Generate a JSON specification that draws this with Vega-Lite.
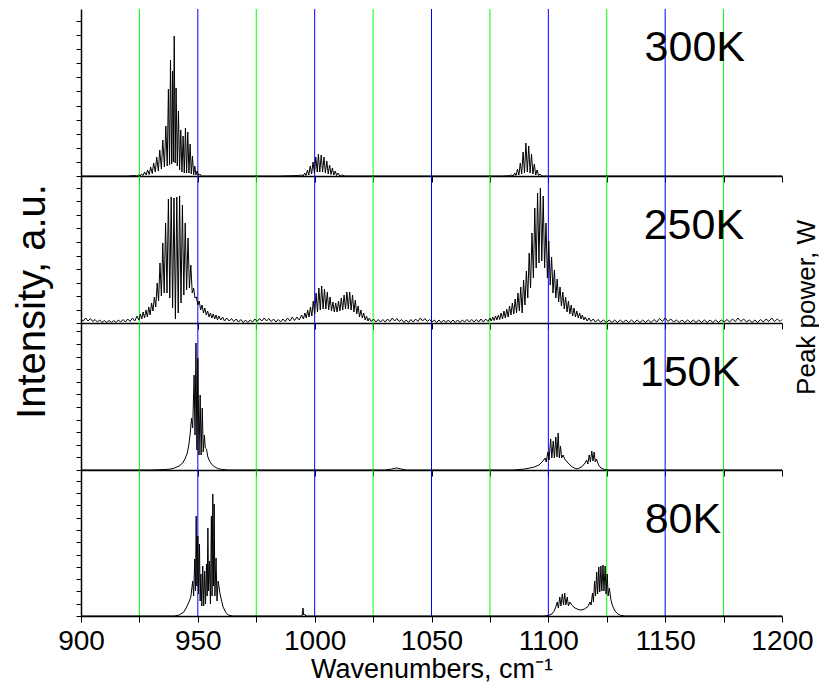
{
  "$schema": "https://vega.github.io/schema/vega-lite/v6.json",
  "background": "white",
  "padding": {"left": 11, "top": 8, "right": 0, "bottom": 0},
  "autosize": {"type": "pad"},
  "spacing": 0,
  "bounds": "flush",
  "config": {"view": {"stroke": null}, "font": "Liberation Sans"},
  "datasets": {
    "grid": [
      {"w": 925, "c": "g"}, {"w": 950, "c": "b"}, {"w": 975, "c": "g"}, {"w": 1000, "c": "b"},
      {"w": 1025, "c": "g"}, {"w": 1050, "c": "b"}, {"w": 1075, "c": "g"}, {"w": 1100, "c": "b"},
      {"w": 1125, "c": "g"}, {"w": 1150, "c": "b"}, {"w": 1175, "c": "g"}
    ],
    "temps": [{"p": "300K"}, {"p": "250K"}, {"p": "150K"}, {"p": "80K"}],
    "spectra": [
      {"p":"300K","w":900,"h":0},{"p":"300K","w":920,"h":0},{"p":"300K","w":923,"h":0.5},{"p":"300K","w":924,"h":0},{"p":"300K","w":924.6,"h":1},{"p":"300K","w":925.3,"h":0},{"p":"300K","w":925.9,"h":2},{"p":"300K","w":926.6,"h":0.5},{"p":"300K","w":927.2,"h":4},{"p":"300K","w":927.9,"h":1},{"p":"300K","w":928.5,"h":6},{"p":"300K","w":929.2,"h":1.5},{"p":"300K","w":929.8,"h":9},{"p":"300K","w":930.5,"h":2.5},{"p":"300K","w":931.1,"h":13},{"p":"300K","w":931.8,"h":4},{"p":"300K","w":932.4,"h":19},{"p":"300K","w":933.1,"h":5},{"p":"300K","w":933.7,"h":26},{"p":"300K","w":934.4,"h":7},{"p":"300K","w":935,"h":36},{"p":"300K","w":935.7,"h":9},{"p":"300K","w":936.3,"h":50},{"p":"300K","w":936.9,"h":10},{"p":"300K","w":937.4,"h":87},{"p":"300K","w":937.9,"h":11},{"p":"300K","w":938.3,"h":116},{"p":"300K","w":938.8,"h":12},{"p":"300K","w":939.2,"h":105},{"p":"300K","w":939.5,"h":14},{"p":"300K","w":939.9,"h":140},{"p":"300K","w":940.3,"h":13},{"p":"300K","w":940.7,"h":88},{"p":"300K","w":941.2,"h":10},{"p":"300K","w":941.7,"h":65},{"p":"300K","w":942.2,"h":6},{"p":"300K","w":942.7,"h":46},{"p":"300K","w":943.2,"h":4},{"p":"300K","w":943.7,"h":40},{"p":"300K","w":944.2,"h":3},{"p":"300K","w":944.7,"h":48},{"p":"300K","w":945.2,"h":3},{"p":"300K","w":945.7,"h":44},{"p":"300K","w":946.2,"h":3},{"p":"300K","w":946.7,"h":32},{"p":"300K","w":947.2,"h":2},{"p":"300K","w":947.7,"h":20},{"p":"300K","w":948.2,"h":1},{"p":"300K","w":948.7,"h":10},{"p":"300K","w":949.2,"h":1},{"p":"300K","w":949.7,"h":5},{"p":"300K","w":950.3,"h":0.5},{"p":"300K","w":950.9,"h":2},{"p":"300K","w":951.5,"h":0},{"p":"300K","w":960,"h":0},{"p":"300K","w":985,"h":0},{"p":"300K","w":990,"h":0.3},{"p":"300K","w":993,"h":0.5},
      {"p":"300K","w":994.5,"h":1},{"p":"300K","w":995.1,"h":0},{"p":"300K","w":995.7,"h":3},{"p":"300K","w":996.3,"h":0.5},{"p":"300K","w":996.9,"h":6},{"p":"300K","w":997.5,"h":1},{"p":"300K","w":998.1,"h":10},{"p":"300K","w":998.7,"h":2},{"p":"300K","w":999.3,"h":14},{"p":"300K","w":999.9,"h":3},{"p":"300K","w":1000.5,"h":19},{"p":"300K","w":1001.1,"h":4},{"p":"300K","w":1001.6,"h":22},{"p":"300K","w":1002.2,"h":4},{"p":"300K","w":1002.8,"h":21},{"p":"300K","w":1003.4,"h":4},{"p":"300K","w":1004,"h":19},{"p":"300K","w":1004.6,"h":3},{"p":"300K","w":1005.2,"h":15},{"p":"300K","w":1005.8,"h":2},{"p":"300K","w":1006.4,"h":11},{"p":"300K","w":1007,"h":1.5},{"p":"300K","w":1007.6,"h":8},{"p":"300K","w":1008.2,"h":1},{"p":"300K","w":1008.8,"h":5},{"p":"300K","w":1009.4,"h":0.5},{"p":"300K","w":1010,"h":3},{"p":"300K","w":1010.8,"h":0},{"p":"300K","w":1011.6,"h":1},{"p":"300K","w":1013,"h":0},{"p":"300K","w":1080,"h":0},{"p":"300K","w":1083,"h":0.3},
      {"p":"300K","w":1084.4,"h":1},{"p":"300K","w":1085,"h":0},{"p":"300K","w":1085.6,"h":3},{"p":"300K","w":1086.2,"h":0.5},{"p":"300K","w":1086.8,"h":7},{"p":"300K","w":1087.4,"h":1},{"p":"300K","w":1088,"h":13},{"p":"300K","w":1088.6,"h":2},{"p":"300K","w":1089.2,"h":24},{"p":"300K","w":1089.8,"h":3},{"p":"300K","w":1090.4,"h":33},{"p":"300K","w":1091,"h":4},{"p":"300K","w":1091.6,"h":30},{"p":"300K","w":1092.2,"h":3},{"p":"300K","w":1092.8,"h":22},{"p":"300K","w":1093.4,"h":2},{"p":"300K","w":1094,"h":12},{"p":"300K","w":1094.6,"h":1},{"p":"300K","w":1095.2,"h":6},{"p":"300K","w":1095.8,"h":0.5},{"p":"300K","w":1096.4,"h":2},{"p":"300K","w":1097.2,"h":0},{"p":"300K","w":1200,"h":0},

      {"p":"250K","w":900,"h":4},{"p":"250K","w":901,"h":2},{"p":"250K","w":902,"h":5},{"p":"250K","w":903,"h":2},{"p":"250K","w":904,"h":4.5},{"p":"250K","w":905,"h":1.5},{"p":"250K","w":906,"h":3.5},{"p":"250K","w":907,"h":1},{"p":"250K","w":908,"h":3},{"p":"250K","w":909,"h":0.5},{"p":"250K","w":910,"h":2.5},{"p":"250K","w":911,"h":0.5},{"p":"250K","w":912,"h":2.5},{"p":"250K","w":913,"h":0.5},{"p":"250K","w":914,"h":2.5},{"p":"250K","w":915,"h":0.5},{"p":"250K","w":916,"h":3},{"p":"250K","w":917,"h":1},{"p":"250K","w":918,"h":3.5},{"p":"250K","w":919,"h":1},{"p":"250K","w":920,"h":4},{"p":"250K","w":921,"h":1.5},{"p":"250K","w":922,"h":5},{"p":"250K","w":923,"h":2},{"p":"250K","w":924,"h":7},{"p":"250K","w":924.8,"h":3},
      {"p":"250K","w":925.4,"h":9},{"p":"250K","w":926,"h":4},{"p":"250K","w":926.6,"h":11},{"p":"250K","w":927.2,"h":5},{"p":"250K","w":927.8,"h":13},{"p":"250K","w":928.4,"h":6},{"p":"250K","w":929,"h":16},{"p":"250K","w":929.6,"h":8},{"p":"250K","w":930.2,"h":20},{"p":"250K","w":930.8,"h":12},{"p":"250K","w":931.4,"h":26},{"p":"250K","w":932,"h":16},{"p":"250K","w":932.6,"h":40},{"p":"250K","w":933.2,"h":22},{"p":"250K","w":933.8,"h":60},{"p":"250K","w":934.4,"h":27},{"p":"250K","w":935,"h":80},{"p":"250K","w":935.6,"h":30},{"p":"250K","w":936.2,"h":100},{"p":"250K","w":936.8,"h":30},{"p":"250K","w":937.4,"h":124},{"p":"250K","w":938,"h":25},{"p":"250K","w":938.6,"h":126},{"p":"250K","w":939.2,"h":15},{"p":"250K","w":939.8,"h":125},{"p":"250K","w":940.4,"h":4},{"p":"250K","w":941,"h":126},{"p":"250K","w":941.6,"h":10},{"p":"250K","w":942.2,"h":127},{"p":"250K","w":942.8,"h":20},{"p":"250K","w":943.4,"h":118},{"p":"250K","w":944,"h":28},{"p":"250K","w":944.6,"h":100},{"p":"250K","w":945.2,"h":33},{"p":"250K","w":945.8,"h":85},{"p":"250K","w":946.4,"h":35},{"p":"250K","w":947,"h":58},{"p":"250K","w":947.6,"h":30},{"p":"250K","w":948.2,"h":35},{"p":"250K","w":948.8,"h":25},{"p":"250K","w":949.4,"h":26},{"p":"250K","w":950,"h":18},{"p":"250K","w":950.6,"h":22},{"p":"250K","w":951.2,"h":13},{"p":"250K","w":951.8,"h":18},{"p":"250K","w":952.4,"h":10},{"p":"250K","w":953,"h":15},{"p":"250K","w":953.6,"h":8},{"p":"250K","w":954.2,"h":12},{"p":"250K","w":954.8,"h":6},{"p":"250K","w":955.4,"h":10},{"p":"250K","w":956,"h":5},{"p":"250K","w":956.6,"h":9},{"p":"250K","w":957.2,"h":4},{"p":"250K","w":957.8,"h":8},{"p":"250K","w":958.4,"h":3},{"p":"250K","w":959,"h":7},{"p":"250K","w":959.8,"h":3},{"p":"250K","w":960.6,"h":6},{"p":"250K","w":961.4,"h":2},{"p":"250K","w":962.4,"h":5},{"p":"250K","w":963.4,"h":2},{"p":"250K","w":964.4,"h":4.5},{"p":"250K","w":965.4,"h":1.5},{"p":"250K","w":966.4,"h":4},{"p":"250K","w":967.4,"h":1},{"p":"250K","w":968.4,"h":3.5},{"p":"250K","w":969.4,"h":0.5},{"p":"250K","w":970.4,"h":3},{"p":"250K","w":971.4,"h":0.5},{"p":"250K","w":972.4,"h":3},{"p":"250K","w":973.4,"h":1},{"p":"250K","w":974.4,"h":4},{"p":"250K","w":975.4,"h":1.5},{"p":"250K","w":976.4,"h":4.5},{"p":"250K","w":977.4,"h":2},{"p":"250K","w":978.4,"h":5},{"p":"250K","w":979.4,"h":2},{"p":"250K","w":980.4,"h":4.5},{"p":"250K","w":981.4,"h":1.5},{"p":"250K","w":982.4,"h":4},{"p":"250K","w":983.4,"h":1},{"p":"250K","w":984.4,"h":3.5},{"p":"250K","w":985.4,"h":1},{"p":"250K","w":986.4,"h":4},{"p":"250K","w":987.4,"h":1.5},{"p":"250K","w":988.4,"h":5},{"p":"250K","w":989.4,"h":2},{"p":"250K","w":990.4,"h":6},{"p":"250K","w":991.4,"h":2.5},{"p":"250K","w":992.4,"h":6},{"p":"250K","w":993.4,"h":3},{"p":"250K","w":994.4,"h":8},{"p":"250K","w":995.2,"h":4},
      {"p":"250K","w":995.8,"h":10},{"p":"250K","w":996.4,"h":5},{"p":"250K","w":997,"h":13},{"p":"250K","w":997.6,"h":6},{"p":"250K","w":998.2,"h":16},{"p":"250K","w":998.8,"h":7},{"p":"250K","w":999.4,"h":22},{"p":"250K","w":1000,"h":9},{"p":"250K","w":1000.6,"h":30},{"p":"250K","w":1001.2,"h":11},{"p":"250K","w":1001.8,"h":35},{"p":"250K","w":1002.4,"h":13},{"p":"250K","w":1003,"h":37},{"p":"250K","w":1003.6,"h":14},{"p":"250K","w":1004.2,"h":34},{"p":"250K","w":1004.8,"h":14},{"p":"250K","w":1005.4,"h":31},{"p":"250K","w":1006,"h":13},{"p":"250K","w":1006.6,"h":26},{"p":"250K","w":1007.2,"h":12},{"p":"250K","w":1007.8,"h":21},{"p":"250K","w":1008.4,"h":11},{"p":"250K","w":1009,"h":20},{"p":"250K","w":1009.6,"h":11},{"p":"250K","w":1010.2,"h":22},{"p":"250K","w":1010.8,"h":12},{"p":"250K","w":1011.4,"h":25},{"p":"250K","w":1012,"h":13},{"p":"250K","w":1012.6,"h":28},{"p":"250K","w":1013.2,"h":14},{"p":"250K","w":1013.8,"h":31},{"p":"250K","w":1014.4,"h":14},{"p":"250K","w":1015,"h":31},{"p":"250K","w":1015.6,"h":13},{"p":"250K","w":1016.2,"h":28},{"p":"250K","w":1016.8,"h":11},{"p":"250K","w":1017.4,"h":23},{"p":"250K","w":1018,"h":9},{"p":"250K","w":1018.6,"h":17},{"p":"250K","w":1019.2,"h":6},{"p":"250K","w":1019.8,"h":13},{"p":"250K","w":1020.4,"h":5},{"p":"250K","w":1021,"h":10},{"p":"250K","w":1021.6,"h":3},{"p":"250K","w":1022.2,"h":7},{"p":"250K","w":1022.8,"h":2},{"p":"250K","w":1023.4,"h":5},{"p":"250K","w":1024.2,"h":1.5},
      {"p":"250K","w":1025.2,"h":4},{"p":"250K","w":1026.2,"h":1},{"p":"250K","w":1027.2,"h":3.5},{"p":"250K","w":1028.2,"h":1},{"p":"250K","w":1029.2,"h":3.5},{"p":"250K","w":1030.2,"h":1},{"p":"250K","w":1031.2,"h":4},{"p":"250K","w":1032.2,"h":1.5},{"p":"250K","w":1033.2,"h":5},{"p":"250K","w":1034.2,"h":2},{"p":"250K","w":1035.2,"h":4.5},{"p":"250K","w":1036.2,"h":1.5},{"p":"250K","w":1037.2,"h":3.5},{"p":"250K","w":1038.2,"h":0.5},{"p":"250K","w":1039.2,"h":3},{"p":"250K","w":1040.2,"h":0.5},{"p":"250K","w":1041.2,"h":3.5},{"p":"250K","w":1042.2,"h":1},{"p":"250K","w":1043.2,"h":4},{"p":"250K","w":1044.2,"h":1.5},{"p":"250K","w":1045.2,"h":5},{"p":"250K","w":1046.2,"h":2},{"p":"250K","w":1047.2,"h":4.5},{"p":"250K","w":1048.2,"h":1.5},{"p":"250K","w":1049.2,"h":3.5},{"p":"250K","w":1050.2,"h":1},{"p":"250K","w":1051.2,"h":3},{"p":"250K","w":1052.2,"h":0.5},{"p":"250K","w":1053.2,"h":3},{"p":"250K","w":1054.2,"h":0.5},{"p":"250K","w":1055.2,"h":3},{"p":"250K","w":1056.2,"h":0.5},{"p":"250K","w":1057.2,"h":3},{"p":"250K","w":1058.2,"h":0.5},{"p":"250K","w":1059.2,"h":3},{"p":"250K","w":1060.2,"h":0.5},{"p":"250K","w":1061.2,"h":3},{"p":"250K","w":1062.2,"h":0.5},{"p":"250K","w":1063.2,"h":3},{"p":"250K","w":1064.2,"h":1},{"p":"250K","w":1065.2,"h":3.5},{"p":"250K","w":1066.2,"h":1},{"p":"250K","w":1067.2,"h":3.5},{"p":"250K","w":1068.2,"h":1},{"p":"250K","w":1069.2,"h":3.5},{"p":"250K","w":1070.2,"h":1},{"p":"250K","w":1071.2,"h":4},{"p":"250K","w":1072.2,"h":1},{"p":"250K","w":1073.2,"h":4},{"p":"250K","w":1074.2,"h":1.5},{"p":"250K","w":1075,"h":5},
      {"p":"250K","w":1075.6,"h":2},{"p":"250K","w":1076.2,"h":6},{"p":"250K","w":1076.8,"h":2.5},{"p":"250K","w":1077.4,"h":7},{"p":"250K","w":1078,"h":3},{"p":"250K","w":1078.6,"h":8},{"p":"250K","w":1079.2,"h":3.5},{"p":"250K","w":1079.8,"h":10},{"p":"250K","w":1080.4,"h":4},{"p":"250K","w":1081,"h":12},{"p":"250K","w":1081.6,"h":5},{"p":"250K","w":1082.2,"h":14},{"p":"250K","w":1082.8,"h":6},{"p":"250K","w":1083.4,"h":17},{"p":"250K","w":1084,"h":8},{"p":"250K","w":1084.6,"h":20},{"p":"250K","w":1085.2,"h":9},{"p":"250K","w":1085.8,"h":24},{"p":"250K","w":1086.4,"h":10},{"p":"250K","w":1087,"h":30},{"p":"250K","w":1087.6,"h":12},{"p":"250K","w":1088.2,"h":36},{"p":"250K","w":1088.8,"h":10},{"p":"250K","w":1089.4,"h":43},{"p":"250K","w":1090,"h":18},{"p":"250K","w":1090.6,"h":52},{"p":"250K","w":1091.2,"h":25},{"p":"250K","w":1091.8,"h":70},{"p":"250K","w":1092.4,"h":35},{"p":"250K","w":1093,"h":90},{"p":"250K","w":1093.6,"h":45},{"p":"250K","w":1094.2,"h":115},{"p":"250K","w":1094.8,"h":55},{"p":"250K","w":1095.4,"h":130},{"p":"250K","w":1096,"h":60},{"p":"250K","w":1096.6,"h":135},{"p":"250K","w":1097.2,"h":62},{"p":"250K","w":1097.8,"h":127},{"p":"250K","w":1098.4,"h":55},{"p":"250K","w":1099,"h":100},{"p":"250K","w":1099.6,"h":45},{"p":"250K","w":1100.2,"h":82},{"p":"250K","w":1100.8,"h":38},{"p":"250K","w":1101.4,"h":66},{"p":"250K","w":1102,"h":30},{"p":"250K","w":1102.6,"h":53},{"p":"250K","w":1103.2,"h":25},{"p":"250K","w":1103.8,"h":44},{"p":"250K","w":1104.4,"h":21},{"p":"250K","w":1105,"h":36},{"p":"250K","w":1105.6,"h":17},{"p":"250K","w":1106.2,"h":31},{"p":"250K","w":1106.8,"h":14},{"p":"250K","w":1107.4,"h":26},{"p":"250K","w":1108,"h":11},{"p":"250K","w":1108.6,"h":22},{"p":"250K","w":1109.2,"h":9},{"p":"250K","w":1109.8,"h":18},{"p":"250K","w":1110.4,"h":7},{"p":"250K","w":1111,"h":15},{"p":"250K","w":1111.6,"h":6},{"p":"250K","w":1112.2,"h":12},{"p":"250K","w":1112.8,"h":5},{"p":"250K","w":1113.4,"h":10},{"p":"250K","w":1114,"h":4},{"p":"250K","w":1114.6,"h":8},{"p":"250K","w":1115.2,"h":3},{"p":"250K","w":1115.8,"h":6},{"p":"250K","w":1116.6,"h":2},{"p":"250K","w":1117.4,"h":5},{"p":"250K","w":1118.2,"h":1.5},{"p":"250K","w":1119.2,"h":4},{"p":"250K","w":1120.2,"h":1},{"p":"250K","w":1121.2,"h":3.5},
      {"p":"250K","w":1122.4,"h":1},{"p":"250K","w":1123.6,"h":3},{"p":"250K","w":1124.8,"h":0.5},{"p":"250K","w":1126,"h":3},{"p":"250K","w":1127.2,"h":0.5},{"p":"250K","w":1128.4,"h":3},{"p":"250K","w":1129.6,"h":0.5},{"p":"250K","w":1130.8,"h":3},{"p":"250K","w":1132,"h":0.5},{"p":"250K","w":1133.2,"h":3},{"p":"250K","w":1134.4,"h":0.5},{"p":"250K","w":1135.6,"h":3},{"p":"250K","w":1136.8,"h":0.5},{"p":"250K","w":1138,"h":3},{"p":"250K","w":1139.2,"h":0.5},{"p":"250K","w":1140.4,"h":3},{"p":"250K","w":1141.6,"h":0.5},{"p":"250K","w":1142.8,"h":3},{"p":"250K","w":1144,"h":0.5},{"p":"250K","w":1145.2,"h":3.5},{"p":"250K","w":1146.4,"h":1},{"p":"250K","w":1147.6,"h":4.5},{"p":"250K","w":1148.8,"h":1.5},{"p":"250K","w":1150,"h":5},{"p":"250K","w":1151.2,"h":1.5},{"p":"250K","w":1152.4,"h":4},{"p":"250K","w":1153.6,"h":1},{"p":"250K","w":1154.8,"h":3},{"p":"250K","w":1156,"h":0.5},{"p":"250K","w":1157.2,"h":3},{"p":"250K","w":1158.4,"h":0.5},{"p":"250K","w":1159.6,"h":3},{"p":"250K","w":1160.8,"h":0.5},{"p":"250K","w":1162,"h":3},{"p":"250K","w":1163.2,"h":0.5},{"p":"250K","w":1164.4,"h":3},{"p":"250K","w":1165.6,"h":0.5},{"p":"250K","w":1166.8,"h":3},{"p":"250K","w":1168,"h":0.5},{"p":"250K","w":1169.2,"h":3},{"p":"250K","w":1170.4,"h":0.5},{"p":"250K","w":1171.6,"h":3},{"p":"250K","w":1172.8,"h":0.5},{"p":"250K","w":1174,"h":3},{"p":"250K","w":1175.2,"h":1},{"p":"250K","w":1176.4,"h":3.5},{"p":"250K","w":1177.6,"h":1},{"p":"250K","w":1178.8,"h":4},{"p":"250K","w":1180,"h":1.5},{"p":"250K","w":1181.2,"h":5},{"p":"250K","w":1182.4,"h":1.5},{"p":"250K","w":1183.6,"h":4},{"p":"250K","w":1184.8,"h":1},{"p":"250K","w":1186,"h":3},{"p":"250K","w":1187.2,"h":0.5},{"p":"250K","w":1188.4,"h":3},{"p":"250K","w":1189.6,"h":0.5},{"p":"250K","w":1190.8,"h":3.5},{"p":"250K","w":1192,"h":1},{"p":"250K","w":1193.2,"h":4},{"p":"250K","w":1194.4,"h":1.5},{"p":"250K","w":1195.6,"h":5},{"p":"250K","w":1196.8,"h":1.5},{"p":"250K","w":1198,"h":4},{"p":"250K","w":1199.2,"h":1.5},{"p":"250K","w":1200,"h":3.5},

      {"p":"150K","w":900,"h":0},{"p":"150K","w":930,"h":0},{"p":"150K","w":936,"h":0.5},{"p":"150K","w":938.5,"h":1},{"p":"150K","w":940,"h":2},{"p":"150K","w":942,"h":4},{"p":"150K","w":943.5,"h":7},{"p":"150K","w":944.5,"h":11},{"p":"150K","w":945.5,"h":17},{"p":"150K","w":946.2,"h":26},{"p":"150K","w":946.8,"h":38},{"p":"150K","w":947.3,"h":52},{"p":"150K","w":947.8,"h":42},{"p":"150K","w":948.4,"h":95},{"p":"150K","w":948.8,"h":35},{"p":"150K","w":949.2,"h":127},{"p":"150K","w":949.6,"h":20},{"p":"150K","w":950,"h":112},{"p":"150K","w":950.5,"h":15},{"p":"150K","w":951,"h":75},{"p":"150K","w":951.4,"h":15},{"p":"150K","w":951.9,"h":62},{"p":"150K","w":952.3,"h":18},{"p":"150K","w":952.8,"h":35},{"p":"150K","w":953.2,"h":22},{"p":"150K","w":953.7,"h":21},{"p":"150K","w":954.3,"h":13},{"p":"150K","w":955,"h":9},{"p":"150K","w":956,"h":5.5},{"p":"150K","w":957,"h":3.5},{"p":"150K","w":958.5,"h":1.5},{"p":"150K","w":960,"h":0.7},{"p":"150K","w":963,"h":0},{"p":"150K","w":1030,"h":0},{"p":"150K","w":1033,"h":1},{"p":"150K","w":1035,"h":2},{"p":"150K","w":1037,"h":1},{"p":"150K","w":1039,"h":0},{"p":"150K","w":1085,"h":0},{"p":"150K","w":1090,"h":1},{"p":"150K","w":1094,"h":3},{"p":"150K","w":1096,"h":5},{"p":"150K","w":1097.7,"h":9},{"p":"150K","w":1098.6,"h":12},{"p":"150K","w":1099.1,"h":8},{"p":"150K","w":1099.8,"h":18},{"p":"150K","w":1100.3,"h":10},{"p":"150K","w":1101,"h":31},{"p":"150K","w":1101.5,"h":12},{"p":"150K","w":1102.1,"h":29},{"p":"150K","w":1102.6,"h":12},{"p":"150K","w":1103.2,"h":33},{"p":"150K","w":1103.7,"h":13},{"p":"150K","w":1104.2,"h":37},{"p":"150K","w":1104.7,"h":12},{"p":"150K","w":1105.2,"h":24},{"p":"150K","w":1105.7,"h":12},{"p":"150K","w":1106.3,"h":15},{"p":"150K","w":1107,"h":11},{"p":"150K","w":1108.4,"h":7},{"p":"150K","w":1110,"h":3.5},{"p":"150K","w":1111.8,"h":1.2},{"p":"150K","w":1113,"h":1.5},{"p":"150K","w":1114.5,"h":3.5},{"p":"150K","w":1115.7,"h":7},{"p":"150K","w":1116.4,"h":10},{"p":"150K","w":1116.9,"h":6},{"p":"150K","w":1117.5,"h":15},{"p":"150K","w":1118,"h":8},{"p":"150K","w":1118.6,"h":19},{"p":"150K","w":1119.1,"h":9},{"p":"150K","w":1119.6,"h":18},{"p":"150K","w":1120.1,"h":8},{"p":"150K","w":1120.6,"h":11},{"p":"150K","w":1121.5,"h":5},{"p":"150K","w":1122.5,"h":2},{"p":"150K","w":1124,"h":0.5},{"p":"150K","w":1126,"h":0},{"p":"150K","w":1200,"h":0},

      {"p":"80K","w":900,"h":0},{"p":"80K","w":940,"h":0},{"p":"80K","w":942,"h":1},{"p":"80K","w":944,"h":4},{"p":"80K","w":945,"h":8},{"p":"80K","w":946,"h":13},{"p":"80K","w":947,"h":19},{"p":"80K","w":947.8,"h":35},{"p":"80K","w":948.2,"h":20},{"p":"80K","w":948.7,"h":57},{"p":"80K","w":949,"h":25},{"p":"80K","w":949.3,"h":100},{"p":"80K","w":949.6,"h":30},{"p":"80K","w":950,"h":80},{"p":"80K","w":950.3,"h":22},{"p":"80K","w":950.7,"h":72},{"p":"80K","w":951,"h":15},{"p":"80K","w":951.3,"h":42},{"p":"80K","w":951.7,"h":10},{"p":"80K","w":952.1,"h":50},{"p":"80K","w":952.5,"h":10},{"p":"80K","w":952.9,"h":45},{"p":"80K","w":953.3,"h":12},{"p":"80K","w":953.7,"h":52},{"p":"80K","w":954,"h":20},{"p":"80K","w":954.3,"h":88},{"p":"80K","w":954.6,"h":25},{"p":"80K","w":955,"h":55},{"p":"80K","w":955.4,"h":12},{"p":"80K","w":955.8,"h":100},{"p":"80K","w":956.1,"h":20},{"p":"80K","w":956.4,"h":122},{"p":"80K","w":956.7,"h":30},{"p":"80K","w":957,"h":112},{"p":"80K","w":957.3,"h":20},{"p":"80K","w":957.8,"h":58},{"p":"80K","w":958.2,"h":15},{"p":"80K","w":958.7,"h":35},{"p":"80K","w":959.5,"h":22},{"p":"80K","w":960.8,"h":9},{"p":"80K","w":962,"h":3.5},{"p":"80K","w":963,"h":1},{"p":"80K","w":965,"h":0},{"p":"80K","w":994.6,"h":0},{"p":"80K","w":995,"h":8},{"p":"80K","w":995.3,"h":1},{"p":"80K","w":995.7,"h":2},{"p":"80K","w":996.2,"h":0},{"p":"80K","w":1098,"h":0},{"p":"80K","w":1100,"h":0.5},{"p":"80K","w":1101.5,"h":2},{"p":"80K","w":1102.5,"h":5},{"p":"80K","w":1103.2,"h":9},{"p":"80K","w":1103.8,"h":14},{"p":"80K","w":1104.3,"h":8},{"p":"80K","w":1104.9,"h":19},{"p":"80K","w":1105.4,"h":10},{"p":"80K","w":1106,"h":22},{"p":"80K","w":1106.5,"h":11},{"p":"80K","w":1107,"h":23},{"p":"80K","w":1107.5,"h":11},{"p":"80K","w":1108.1,"h":19},{"p":"80K","w":1108.6,"h":10},{"p":"80K","w":1109.2,"h":14},{"p":"80K","w":1110,"h":11},{"p":"80K","w":1111.4,"h":8},{"p":"80K","w":1112.8,"h":6.5},{"p":"80K","w":1114,"h":6},{"p":"80K","w":1115.5,"h":7},{"p":"80K","w":1117,"h":9.5},{"p":"80K","w":1117.8,"h":14},{"p":"80K","w":1118.3,"h":11},{"p":"80K","w":1118.9,"h":23},{"p":"80K","w":1119.3,"h":14},{"p":"80K","w":1119.8,"h":35},{"p":"80K","w":1120.2,"h":20},{"p":"80K","w":1120.7,"h":44},{"p":"80K","w":1121.1,"h":22},{"p":"80K","w":1121.6,"h":49},{"p":"80K","w":1122,"h":24},{"p":"80K","w":1122.5,"h":50},{"p":"80K","w":1122.9,"h":25},{"p":"80K","w":1123.4,"h":51},{"p":"80K","w":1123.8,"h":25},{"p":"80K","w":1124.3,"h":50},{"p":"80K","w":1124.7,"h":22},{"p":"80K","w":1125.2,"h":42},{"p":"80K","w":1125.6,"h":20},{"p":"80K","w":1126.1,"h":28},{"p":"80K","w":1126.8,"h":16},{"p":"80K","w":1127.5,"h":10},{"p":"80K","w":1128.5,"h":5},{"p":"80K","w":1129.8,"h":2},{"p":"80K","w":1131,"h":0.5},{"p":"80K","w":1133,"h":0},{"p":"80K","w":1200,"h":0}
    ]
  },
  "vconcat": [
    {
      "width": 701, "height": 167,
      "layer": [
        {"data": {"name": "grid"}, "mark": {"type": "rule", "strokeWidth": 1},
         "encoding": {
           "x": {"field": "w", "type": "quantitative", "scale": {"domain": [900, 1200], "nice": false, "zero": false},
                 "axis": {"values": [900,925,950,975,1000,1025,1050,1075,1100,1125,1150,1175,1200], "labels": false, "title": null, "grid": false, "tickSize": 6, "tickColor": "black", "domainColor": "black", "domainWidth": 1.5}},
           "color": {"field": "c", "type": "nominal", "scale": {"domain": ["g", "b"], "range": ["#00ff00", "#0000ff"]}, "legend": null}}},
        {"data": {"name": "spectra"}, "transform": [{"filter": "datum.p === '300K'"}],
         "mark": {"type": "line", "color": "black", "strokeWidth": 1},
         "encoding": {
           "x": {"field": "w", "type": "quantitative",
                 "axis": {"values": [900,925,950,975,1000,1025,1050,1075,1100,1125,1150,1175,1200], "labels": false, "title": null, "grid": false, "tickSize": 6, "tickColor": "black", "domainColor": "black", "domainWidth": 1.5}},
           "y": {"field": "h", "type": "quantitative", "scale": {"domain": [0, 167], "nice": false},
                 "axis": {"values": [0,14.1,28.2,42.3,56.4,70.5,84.6,98.7,112.8,126.9,141,155.1], "labels": false, "title": null, "grid": false, "tickSize": 5, "tickColor": "black", "domainColor": "black", "domainWidth": 1.5}}}},
        {"data": {"name": "temps"}, "transform": [{"filter": "datum.p === '300K'"}],
         "mark": {"type": "text", "font": "Liberation Sans", "fontSize": 43, "baseline": "middle", "align": "center", "color": "black"},
         "encoding": {
           "x": {"datum": 1162.7, "type": "quantitative",
                 "axis": {"values": [900,925,950,975,1000,1025,1050,1075,1100,1125,1150,1175,1200], "labels": false, "title": null, "grid": false, "tickSize": 6, "tickColor": "black", "domainColor": "black", "domainWidth": 1.5}},
           "y": {"datum": 128, "type": "quantitative",
                 "axis": {"values": [0,14.1,28.2,42.3,56.4,70.5,84.6,98.7,112.8,126.9,141,155.1], "labels": false, "title": null, "grid": false, "tickSize": 5, "tickColor": "black", "domainColor": "black", "domainWidth": 1.5}},
           "text": {"field": "p"}}}
      ]
    },
    {
      "width": 701, "height": 147,
      "resolve": {"axis": {"y": "independent"}},
      "layer": [
        {"data": {"name": "grid"}, "mark": {"type": "rule", "strokeWidth": 1},
         "encoding": {
           "x": {"field": "w", "type": "quantitative", "scale": {"domain": [900, 1200], "nice": false, "zero": false},
                 "axis": {"values": [900,925,950,975,1000,1025,1050,1075,1100,1125,1150,1175,1200], "labels": false, "title": null, "grid": false, "tickSize": 6, "tickColor": "black", "domainColor": "black", "domainWidth": 1.5}},
           "color": {"field": "c", "type": "nominal", "scale": {"domain": ["g", "b"], "range": ["#00ff00", "#0000ff"]}, "legend": null}}},
        {"data": {"name": "spectra"}, "transform": [{"filter": "datum.p === '250K'"}],
         "mark": {"type": "line", "color": "black", "strokeWidth": 1},
         "encoding": {
           "x": {"field": "w", "type": "quantitative",
                 "axis": {"values": [900,925,950,975,1000,1025,1050,1075,1100,1125,1150,1175,1200], "labels": false, "title": null, "grid": false, "tickSize": 6, "tickColor": "black", "domainColor": "black", "domainWidth": 1.5}},
           "y": {"field": "h", "type": "quantitative", "scale": {"domain": [0, 147], "nice": false},
                 "axis": {"values": [0,13.5,27,40.5,54,67.5,81,94.5,108,121.5,135], "labels": false, "grid": false, "tickSize": 5, "tickColor": "black", "domainColor": "black", "domainWidth": 1.5,
                          "title": "Intensity, a.u.", "titleFont": "Liberation Sans", "titleFontSize": 40, "titleFontWeight": "normal", "titleColor": "black", "titleAngle": 270, "titleBaseline": "alphabetic", "titleAlign": "center", "titleX": -37, "titleY": 125}}}},
        {"data": {"name": "temps"}, "transform": [{"filter": "datum.p === '250K'"}],
         "mark": {"type": "text", "font": "Liberation Sans", "fontSize": 43, "baseline": "middle", "align": "center", "color": "black"},
         "encoding": {
           "x": {"datum": 1162.3, "type": "quantitative",
                 "axis": {"values": [900,925,950,975,1000,1025,1050,1075,1100,1125,1150,1175,1200], "labels": false, "title": null, "grid": false, "tickSize": 6, "tickColor": "black", "domainColor": "black", "domainWidth": 1.5}},
           "y": {"datum": 97, "type": "quantitative",
                 "axis": {"orient": "right", "domain": false, "ticks": false, "labels": false, "grid": false,
                          "title": "Peak power, W", "titleFont": "Liberation Sans", "titleFontSize": 26, "titleFontWeight": "normal", "titleColor": "black", "titleAngle": 270, "titleBaseline": "alphabetic", "titleAlign": "center", "titleX": 32, "titleY": 131}},
           "text": {"field": "p"}}}
      ]
    },
    {
      "width": 701, "height": 147,
      "layer": [
        {"data": {"name": "grid"}, "mark": {"type": "rule", "strokeWidth": 1},
         "encoding": {
           "x": {"field": "w", "type": "quantitative", "scale": {"domain": [900, 1200], "nice": false, "zero": false},
                 "axis": {"values": [900,925,950,975,1000,1025,1050,1075,1100,1125,1150,1175,1200], "labels": false, "title": null, "grid": false, "tickSize": 6, "tickColor": "black", "domainColor": "black", "domainWidth": 1.5}},
           "color": {"field": "c", "type": "nominal", "scale": {"domain": ["g", "b"], "range": ["#00ff00", "#0000ff"]}, "legend": null}}},
        {"data": {"name": "spectra"}, "transform": [{"filter": "datum.p === '150K'"}],
         "mark": {"type": "line", "color": "black", "strokeWidth": 1},
         "encoding": {
           "x": {"field": "w", "type": "quantitative",
                 "axis": {"values": [900,925,950,975,1000,1025,1050,1075,1100,1125,1150,1175,1200], "labels": false, "title": null, "grid": false, "tickSize": 6, "tickColor": "black", "domainColor": "black", "domainWidth": 1.5}},
           "y": {"field": "h", "type": "quantitative", "scale": {"domain": [0, 147], "nice": false},
                 "axis": {"values": [0,12.6,25.2,37.8,50.4,63,75.6,88.2,100.8,113.4,126,138.6], "labels": false, "title": null, "grid": false, "tickSize": 5, "tickColor": "black", "domainColor": "black", "domainWidth": 1.5}}}},
        {"data": {"name": "temps"}, "transform": [{"filter": "datum.p === '150K'"}],
         "mark": {"type": "text", "font": "Liberation Sans", "fontSize": 43, "baseline": "middle", "align": "center", "color": "black"},
         "encoding": {
           "x": {"datum": 1160.6, "type": "quantitative",
                 "axis": {"values": [900,925,950,975,1000,1025,1050,1075,1100,1125,1150,1175,1200], "labels": false, "title": null, "grid": false, "tickSize": 6, "tickColor": "black", "domainColor": "black", "domainWidth": 1.5}},
           "y": {"datum": 97, "type": "quantitative",
                 "axis": {"values": [0,12.6,25.2,37.8,50.4,63,75.6,88.2,100.8,113.4,126,138.6], "labels": false, "title": null, "grid": false, "tickSize": 5, "tickColor": "black", "domainColor": "black", "domainWidth": 1.5}},
           "text": {"field": "p"}}}
      ]
    },
    {
      "width": 701, "height": 146,
      "layer": [
        {"data": {"name": "grid"}, "mark": {"type": "rule", "strokeWidth": 1},
         "encoding": {
           "x": {"field": "w", "type": "quantitative", "scale": {"domain": [900, 1200], "nice": false, "zero": false},
                 "axis": {"values": [900,925,950,975,1000,1025,1050,1075,1100,1125,1150,1175,1200], "format": "d", "labelExpr": "datum.value % 50 === 0 ? datum.label : ''",
                          "labelFont": "Liberation Sans", "labelFontSize": 28, "labelColor": "black", "labelPadding": 5, "labelFlush": false, "labelOverlap": false,
                          "grid": false, "tickSize": 6, "tickColor": "black", "domainColor": "black", "domainWidth": 1.5,
                          "title": "Wavenumbers, cm⁻¹", "titleFont": "Liberation Sans", "titleFontSize": 27, "titleFontWeight": "normal", "titleColor": "black", "titlePadding": 1}},
           "color": {"field": "c", "type": "nominal", "scale": {"domain": ["g", "b"], "range": ["#00ff00", "#0000ff"]}, "legend": null}}},
        {"data": {"name": "spectra"}, "transform": [{"filter": "datum.p === '80K'"}],
         "mark": {"type": "line", "color": "black", "strokeWidth": 1},
         "encoding": {
           "x": {"field": "w", "type": "quantitative",
                 "axis": {"values": [900,925,950,975,1000,1025,1050,1075,1100,1125,1150,1175,1200], "format": "d", "labelExpr": "datum.value % 50 === 0 ? datum.label : ''",
                          "labelFont": "Liberation Sans", "labelFontSize": 28, "labelColor": "black", "labelPadding": 5, "labelFlush": false, "labelOverlap": false,
                          "grid": false, "tickSize": 6, "tickColor": "black", "domainColor": "black", "domainWidth": 1.5,
                          "title": "Wavenumbers, cm⁻¹", "titleFont": "Liberation Sans", "titleFontSize": 27, "titleFontWeight": "normal", "titleColor": "black", "titlePadding": 1}},
           "y": {"field": "h", "type": "quantitative", "scale": {"domain": [0, 146], "nice": false},
                 "axis": {"values": [0,12.3,24.6,36.9,49.2,61.5,73.8,86.1,98.4,110.7,123,135.3], "labels": false, "title": null, "grid": false, "tickSize": 5, "tickColor": "black", "domainColor": "black", "domainWidth": 1.5}}}},
        {"data": {"name": "temps"}, "transform": [{"filter": "datum.p === '80K'"}],
         "mark": {"type": "text", "font": "Liberation Sans", "fontSize": 43, "baseline": "middle", "align": "center", "color": "black"},
         "encoding": {
           "x": {"datum": 1157.6, "type": "quantitative",
                 "axis": {"values": [900,925,950,975,1000,1025,1050,1075,1100,1125,1150,1175,1200], "format": "d", "labelExpr": "datum.value % 50 === 0 ? datum.label : ''",
                          "labelFont": "Liberation Sans", "labelFontSize": 28, "labelColor": "black", "labelPadding": 5, "labelFlush": false, "labelOverlap": false,
                          "grid": false, "tickSize": 6, "tickColor": "black", "domainColor": "black", "domainWidth": 1.5,
                          "title": "Wavenumbers, cm⁻¹", "titleFont": "Liberation Sans", "titleFontSize": 27, "titleFontWeight": "normal", "titleColor": "black", "titlePadding": 1}},
           "y": {"datum": 96, "type": "quantitative",
                 "axis": {"values": [0,12.3,24.6,36.9,49.2,61.5,73.8,86.1,98.4,110.7,123,135.3], "labels": false, "title": null, "grid": false, "tickSize": 5, "tickColor": "black", "domainColor": "black", "domainWidth": 1.5}},
           "text": {"field": "p"}}}
      ]
    }
  ]
}
